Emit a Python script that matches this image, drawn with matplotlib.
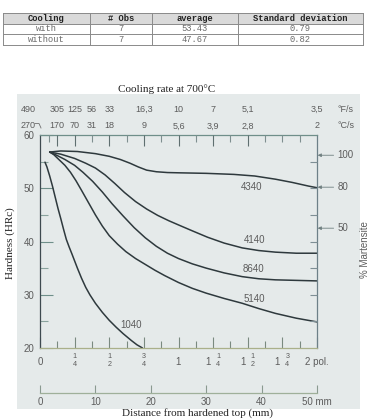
import matplotlib
matplotlib.use('Agg')
import matplotlib.pyplot as plt
from matplotlib.patches import Rectangle
import matplotlib.transforms as mtransforms

# ---------------- data ----------------
table_header = ['Cooling', '# Obs', 'average', 'Standard deviation']
table_cooling = ['with', 'without']
table_obs = ['7', '7']
table_avg = ['53.43', '47.67']
table_sd = ['0.79', '0.82']

steel_names = ['4340', '4140', '8640', '5140', '1040']
x_4340 = [0.07, 0.15, 0.27, 0.40, 0.50, 0.58, 0.65, 0.71, 0.77, 0.84, 0.92, 1.00, 1.20, 1.40, 1.55, 1.70, 1.82, 1.94, 2.00]
y_4340 = [56.8, 57.0, 56.9, 56.5, 56.0, 55.4, 54.7, 54.0, 53.4, 53.1, 52.95, 52.9, 52.8, 52.6, 52.3, 51.7, 51.1, 50.4, 50.1]
x_4140 = [0.07, 0.15, 0.25, 0.33, 0.40, 0.47, 0.54, 0.61, 0.69, 0.77, 0.85, 0.93, 1.01, 1.10, 1.21, 1.33, 1.46, 1.58, 1.70, 1.85, 2.00]
y_4140 = [56.8, 56.4, 55.6, 54.7, 53.8, 52.5, 50.9, 49.2, 47.5, 46.1, 44.9, 43.9, 43.0, 42.0, 40.8, 39.7, 38.8, 38.3, 38.0, 37.8, 37.8]
x_8640 = [0.07, 0.12, 0.18, 0.25, 0.31, 0.38, 0.45, 0.52, 0.60, 0.68, 0.76, 0.84, 0.92, 1.00, 1.10, 1.20, 1.33, 1.46, 1.58, 1.70, 1.85, 2.00]
y_8640 = [56.8, 56.2, 55.4, 54.3, 53.0, 51.3, 49.3, 47.1, 44.8, 42.6, 40.7, 39.1, 37.8, 36.8, 35.8, 35.0, 34.1, 33.4, 33.0, 32.8, 32.7, 32.6]
x_5140 = [0.07, 0.10, 0.14, 0.18, 0.22, 0.26, 0.30, 0.35, 0.40, 0.45, 0.50, 0.56, 0.62, 0.69, 0.76, 0.83, 0.90, 1.00, 1.10, 1.20, 1.33, 1.46, 1.58, 1.70, 1.85, 2.00]
y_5140 = [56.8, 56.3, 55.3, 54.3, 53.0, 51.4, 49.6, 47.3, 45.0, 42.9, 41.1, 39.5, 38.1, 36.8, 35.7, 34.6, 33.6, 32.3, 31.2, 30.3, 29.3, 28.4, 27.4, 26.5, 25.6, 24.9]
x_1040 = [0.036, 0.05, 0.07, 0.09, 0.11, 0.13, 0.15, 0.17, 0.19, 0.21, 0.23, 0.27, 0.30, 0.33, 0.36, 0.40, 0.45, 0.50, 0.55, 0.60, 0.66, 0.70, 0.74]
y_1040 = [54.9, 54.0, 52.3, 50.4, 48.3, 46.2, 44.3, 42.3, 40.4, 39.0, 37.7, 35.0, 33.1, 31.4, 30.0, 28.4, 26.7, 25.2, 23.9, 22.7, 21.4, 20.6, 20.0]

hrc_ticks = [20, 30, 40, 50, 60]
inch_ticks = [0, 0.25, 0.5, 0.75, 1.0, 1.25, 1.5, 1.75, 2.0]
inch_whole = ['0', '', '', '', '1', '1', '1', '1', '2 pol.']
inch_num = ['', '1', '1', '3', '', '1', '1', '3', '']
inch_den = ['', '4', '2', '4', '', '4', '2', '4', '']
mm_ticks = [0, 10, 20, 30, 40, 50]
mm_labels = ['0', '10', '20', '30', '40', '50 mm']

rate_pos = [0.125, 0.25, 0.375, 0.5, 0.75, 1.0, 1.25, 1.5, 2.0]
rate_F = ['305', '125', '56', '33', '16,3', '10', '7', '5,1', '3,5']
rate_C = ['170', '70', '31', '18', '9', '5,6', '3,9', '2,8', '2']
rate_F0 = '490'
rate_C0 = '270'

mart_pct = ['100', '80', '50']
mart_hrc = [56.2, 50.2, 42.5]

# ---------------- figure ----------------
W, H = 372, 420
fig = plt.figure(figsize=(W / 100, H / 100), dpi=100)
bg = fig.add_axes([0, 0, 1, 1])
bg.set_xlim(0, W)
bg.set_ylim(H, 0)
bg.axis('off')


def fr(x0, y0, x1, y1):
    return [x0 / W, 1 - y1 / H, (x1 - x0) / W, (y1 - y0) / H]


gray_txt = '#5c5c5c'
line_c = '#2e393d'
sans = ['Liberation Sans', 'DejaVu Sans']
serif = ['Liberation Serif', 'DejaVu Serif']
mono = ['Liberation Mono', 'DejaVu Sans Mono']

# ---- table ----
col_edges = [3, 90, 152, 238, 363]
row_edges = [13, 23.5, 34, 44.5]
bg.add_patch(Rectangle((col_edges[0], row_edges[0]), col_edges[-1] - col_edges[0],
                       row_edges[1] - row_edges[0], fc='#dadada', ec='none'))
for yy in row_edges:
    bg.plot([col_edges[0], col_edges[-1]], [yy, yy], color='#8a8a8a', lw=0.7)
for xx in col_edges:
    bg.plot([xx, xx], [row_edges[0], row_edges[-1]], color='#8a8a8a', lw=0.7)
rows = [table_header] + [list(r) for r in zip(table_cooling, table_obs, table_avg, table_sd)]
for i, row in enumerate(rows):
    yc = (row_edges[i] + row_edges[i + 1]) / 2
    for j, cell in enumerate(row):
        xc = (col_edges[j] + col_edges[j + 1]) / 2
        bg.text(xc, yc, cell, ha='center', va='center', fontsize=6.3, family=mono,
                color='#222222' if i == 0 else '#6a6a6a', fontweight='bold' if i == 0 else 'normal')

# ---- grey panel ----
bg.add_patch(Rectangle((17, 94), 343, 315, fc='#e5eaea', ec='none'))

# ---- main axes ----
ax = fig.add_axes(fr(40, 135, 317, 348))
ax.set_facecolor('none')
ax.set_xlim(0, 2)
ax.set_ylim(20, 60)
for s, c in [('left', '#3e4a50'), ('top', '#6f8f8a'), ('right', '#6d8088'), ('bottom', '#aab08a')]:
    ax.spines[s].set_color(c)
    ax.spines[s].set_linewidth(0.9)

ax.set_yticks(hrc_ticks)
ax.set_yticks([25, 35, 45, 55], minor=True)
ax.tick_params(axis='y', which='major', direction='in', length=9, width=0.8, color='#6f8f8a',
               labelsize=7, labelcolor=gray_txt, pad=4)
ax.tick_params(axis='y', which='minor', direction='in', length=6, width=0.8, color='#8aa39e')
for t in ax.get_yticklabels():
    t.set_family(sans)

ax.set_xticks(inch_ticks)
ax.set_xticks([0.125 + 0.25 * k for k in range(8)], minor=True)
ax.tick_params(axis='x', which='major', direction='in', length=8, width=0.8, color='#7a8a80', labelbottom=False)
ax.tick_params(axis='x', which='minor', direction='in', length=5, width=0.8, color='#7a8a80')

axr = ax.twinx()
axr.set_ylim(20, 60)
axr.set_yticks([25, 30, 35, 40, 45, 50, 55])
axr.tick_params(axis='y', direction='in', length=5, width=0.8, color='#7d8e94', labelright=False)
for s in axr.spines.values():
    s.set_visible(False)

axt = ax.twiny()
axt.set_xlim(0, 2)
axt.set_xticks([0.125, 0.25, 0.5, 0.75, 1.0, 1.25, 1.5])
axt.set_xticks([0.0625, 0.375, 0.625, 0.875, 1.125, 1.375, 1.625, 1.75, 1.875], minor=True)
axt.tick_params(axis='x', which='major', direction='in', length=8, width=0.8, color='#5f6f70', labeltop=False)
axt.tick_params(axis='x', which='minor', direction='in', length=5, width=0.8, color='#7f8f90')
for s in axt.spines.values():
    s.set_visible(False)

# curves
curves = [(x_4340, y_4340), (x_4140, y_4140), (x_8640, y_8640), (x_5140, y_5140), (x_1040, y_1040)]
for xs, ys in curves:
    ax.plot(xs, ys, color=line_c, lw=1.1, solid_capstyle='round', solid_joinstyle='round', clip_on=False)

label_xy = [(1.53, 50.2), (1.55, 40.3), (1.54, 34.8), (1.55, 29.2), (0.66, 24.3)]
for name, (lx, ly) in zip(steel_names, label_xy):
    ax.text(lx, ly, name, ha='center', va='center', fontsize=7, color=gray_txt, family=sans)

# top cooling-rate labels
tb = mtransforms.blended_transform_factory(ax.transData, bg.transData)
for p, f, c in zip(rate_pos, rate_F, rate_C):
    ax.text(p, 109, f, transform=tb, ha='center', va='center', fontsize=6.5, color=gray_txt, family=sans, clip_on=False)
    ax.text(p, 126, c, transform=tb, ha='center', va='center', fontsize=6.5, color=gray_txt, family=sans, clip_on=False)
ax.text(-0.087, 109, rate_F0, transform=tb, ha='center', va='center', fontsize=6.5, color=gray_txt, family=sans)
ax.text(-0.087, 126, rate_C0, transform=tb, ha='center', va='center', fontsize=6.5, color=gray_txt, family=sans)
bg.plot([35, 39, 41], [123.5, 123.5, 128], color='#707070', lw=0.6)
bg.text(338, 109, '°F/s', ha='left', va='center', fontsize=6.5, color=gray_txt, family=sans)
bg.text(338, 126, '°C/s', ha='left', va='center', fontsize=6.5, color=gray_txt, family=sans)

# bottom inch labels
for p, wh, nu, de in zip(inch_ticks, inch_whole, inch_num, inch_den):
    has_frac = nu != ''
    if wh:
        dx = -5 if has_frac else 0
        tr = mtransforms.offset_copy(tb, fig=fig, x=dx, y=0, units='dots')
        ax.text(p, 362, wh, transform=tr, ha='center', va='center', fontsize=7, color=gray_txt, family=sans)
    if has_frac:
        dx = 5 if wh else 0
        tr = mtransforms.offset_copy(tb, fig=fig, x=dx, y=0, units='dots')
        ax.text(p, 356, nu, transform=tr, ha='center', va='center', fontsize=5.2, color=gray_txt, family=sans)
        ax.text(p, 365, de, transform=tr, ha='center', va='center', fontsize=5.2, color=gray_txt, family=sans)

# mm scale
axm = fig.add_axes(fr(40, 391.5, 317, 392.5))
axm.set_facecolor('none')
axm.set_xlim(0, 50)
axm.set_yticks([])
for s in ['left', 'right', 'top']:
    axm.spines[s].set_visible(False)
axm.spines['bottom'].set_color('#9fb09a')
axm.spines['bottom'].set_linewidth(0.9)
axm.set_xticks(mm_ticks)
axm.set_xticklabels(mm_labels)
axm.tick_params(axis='x', direction='in', length=6, width=0.8, color='#8a9a90', labelsize=7,
                labelcolor=gray_txt, pad=3)
for t in axm.get_xticklabels():
    t.set_family(sans)

# martensite arrows
for pct, h in zip(mart_pct, mart_hrc):
    ax.annotate(pct, xy=(2.005, h), xytext=(2.15, h), ha='left', va='center', fontsize=7,
                color=gray_txt, family=sans, annotation_clip=False,
                arrowprops=dict(arrowstyle='-|>', color='#6f7f80', lw=0.6, mutation_scale=5,
                                shrinkA=1, shrinkB=0))
bg.text(365, 250, '% Martensite', rotation=90, ha='center', va='center', fontsize=7, color=gray_txt, family=sans)

# titles
bg.text(167, 89, 'Cooling rate at 700°C', ha='center', va='center', fontsize=8, color='#222222', family=serif)
bg.text(10, 243, 'Hardness (HRc)', rotation=90, ha='center', va='center', fontsize=8, color='#222222', family=serif)
bg.text(197, 413, 'Distance from hardened top (mm)', ha='center', va='center', fontsize=8, color='#222222', family=serif)

fig.savefig('out.png', dpi=100)
